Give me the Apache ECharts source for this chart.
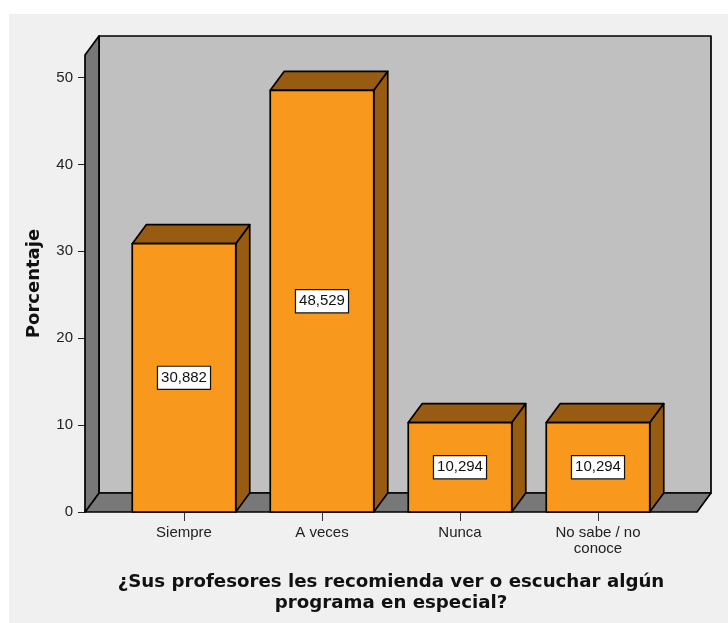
<!DOCTYPE html>
<html>
<head>
<meta charset="utf-8">
<script src="https://cdn.jsdelivr.net/npm/echarts@6/dist/echarts.min.js"></script>
<style>
  html, body { margin: 0; padding: 0; background: #ffffff; }
  #chart { width: 728px; height: 623px; }
</style>
</head>
<body>
<div id="chart"></div>
<script>
// Survey responses (percent of students)
const categories = ['Siempre', 'A veces', 'Nunca', 'No sabe / no\nconoce'];
const percentages = [30.882, 48.529, 10.294, 10.294];
const yTickValues = [0, 10, 20, 30, 40, 50];
const yAxisMax = 52.6;

const FONT = '"Liberation Sans", Arial, sans-serif';
const TITLE_FONT = '"DejaVu Sans", Verdana, sans-serif';
const DEPTH_X = 14;     // 3D depth offset to the right
const DEPTH_Y = 19;     // 3D depth offset upwards
const WALL_PAD = 30;    // floor overhang beyond the category bands
const EDGE = '#000000';
const EDGE_W = 1.7;

function fmt(v) {
  return v.toFixed(3).replace('.', ',');
}

// Back wall, floor and left wall of the 3D box
function renderFrame(params, api) {
  const cs = params.coordSys;
  const x0 = cs.x - WALL_PAD;
  const x1 = cs.x + cs.width + WALL_PAD;
  const yb = api.coord([0, 0])[1];
  const yt = cs.y;
  const st = { stroke: EDGE, lineWidth: EDGE_W, lineJoin: 'round' };
  return {
    type: 'group',
    children: [
      { type: 'polygon', shape: { points: [[x0 + DEPTH_X, yt - DEPTH_Y], [x1 + DEPTH_X, yt - DEPTH_Y], [x1 + DEPTH_X, yb - DEPTH_Y], [x0 + DEPTH_X, yb - DEPTH_Y]] },
        style: Object.assign({ fill: '#c0c0c0' }, st) },
      { type: 'polygon', shape: { points: [[x0, yb], [x1, yb], [x1 + DEPTH_X, yb - DEPTH_Y], [x0 + DEPTH_X, yb - DEPTH_Y]] },
        style: Object.assign({ fill: '#787878' }, st) },
      { type: 'polygon', shape: { points: [[x0, yb], [x0, yt], [x0 + DEPTH_X, yt - DEPTH_Y], [x0 + DEPTH_X, yb - DEPTH_Y]] },
        style: Object.assign({ fill: '#787878' }, st) }
    ]
  };
}

// One 3D bar: front face, top face, right side, and value label
function renderBar(params, api) {
  const idx = api.value(0);
  const val = api.value(1);
  const top = api.coord([idx, val]);
  const base = api.coord([idx, 0]);
  const w = api.size([1, 0])[0] * 0.75;
  const xl = top[0] - w / 2;
  const xr = top[0] + w / 2;
  const yt = top[1];
  const yb = base[1];
  const st = { stroke: EDGE, lineWidth: EDGE_W, lineJoin: 'round' };
  return {
    type: 'group',
    children: [
      { type: 'polygon', shape: { points: [[xr, yb], [xr, yt], [xr + DEPTH_X, yt - DEPTH_Y], [xr + DEPTH_X, yb - DEPTH_Y]] },
        style: Object.assign({ fill: '#985b12' }, st) },
      { type: 'polygon', shape: { points: [[xl, yt], [xr, yt], [xr + DEPTH_X, yt - DEPTH_Y], [xl + DEPTH_X, yt - DEPTH_Y]] },
        style: Object.assign({ fill: '#985b12' }, st) },
      { type: 'rect', shape: { x: xl, y: yt, width: w, height: yb - yt },
        style: Object.assign({ fill: '#f8991e' }, st) },
      { type: 'text', x: top[0], y: (yt + yb) / 2,
        style: {
          text: fmt(val), align: 'center', verticalAlign: 'middle',
          font: '15px ' + FONT, fill: '#111111',
          backgroundColor: '#ffffff', borderColor: '#111111', borderWidth: 1.2,
          padding: [4, 3, 3, 3]
        } }
    ]
  };
}

const chart = echarts.init(document.getElementById('chart'), null, { renderer: 'canvas' });

chart.setOption({
  animation: false,
  backgroundColor: '#ffffff',
  graphic: [{
    type: 'rect', z: -10, silent: true,
    shape: { x: 9, y: 14, width: 719, height: 609 },
    style: { fill: '#f0f0f0' }
  }],
  grid: { left: 115, right: 61, top: 55, bottom: 111, containLabel: false },
  xAxis: {
    type: 'category',
    data: categories,
    boundaryGap: true,
    axisLine: { show: false },
    axisTick: { show: true, alignWithLabel: true, length: 9, lineStyle: { color: '#333333', width: 1 } },
    axisLabel: { color: '#222222', fontSize: 15, fontFamily: FONT, margin: 13, lineHeight: 16 },
    splitLine: { show: false },
    name: '¿Sus profesores les recomienda ver o escuchar algún\nprograma en especial?',
    nameLocation: 'middle',
    nameGap: 60,
    nameMoveOverlap: false,
    nameTextStyle: { color: '#111111', fontSize: 18.2, fontWeight: 'bold', fontFamily: TITLE_FONT, lineHeight: 21 }
  },
  yAxis: {
    type: 'value',
    min: 0,
    max: yAxisMax,
    offset: WALL_PAD,
    axisLine: { show: false },
    axisTick: { show: true, length: 7, customValues: yTickValues, lineStyle: { color: '#222222', width: 1 } },
    axisLabel: { color: '#222222', fontSize: 15, fontFamily: FONT, margin: 12, customValues: yTickValues },
    splitLine: { show: false },
    name: 'Porcentaje',
    nameLocation: 'middle',
    nameGap: 42,
    nameRotate: 90,
    nameMoveOverlap: false,
    nameTextStyle: { color: '#111111', fontSize: 18, fontWeight: 'bold', fontFamily: TITLE_FONT }
  },
  series: [
    {
      type: 'custom',
      z: 1,
      silent: true,
      renderItem: renderFrame,
      data: [[0, 0]]
    },
    {
      type: 'custom',
      z: 3,
      renderItem: renderBar,
      encode: { x: 0, y: 1 },
      data: percentages.map((v, i) => [i, v])
    }
  ]
});
</script>
</body>
</html>
